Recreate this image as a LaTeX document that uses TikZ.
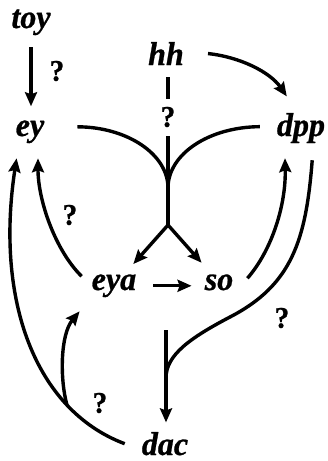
\documentclass[tikz,border=0pt]{standalone}
\usepackage{fontspec}
\newfontfamily\genefont[FakeStretch=0.97,
  BoldFeatures={FakeBold=0.8}, BoldItalicFeatures={FakeBold=0.8}]{Liberation Serif}
\usetikzlibrary{arrows.meta}

\tikzset{
  gene/.style={font=\genefont\bfseries\itshape\fontsize{33}{33}\selectfont,
    inner sep=0pt, anchor=base},
  query/.style={font=\genefont\bfseries\fontsize{30}{30}\selectfont,
    inner sep=0pt},
  link/.style={line width=3.4pt},
  act/.style={link, -{Stealth[length=14pt,width=12pt,inset=2pt]}},
}

\begin{document}
\begin{tikzpicture}[x=1pt,y=-1pt]
  \useasboundingbox (0,0) rectangle (327,461);
  % genes
  \node[gene] (toy) at (31,28) {toy};
  \node[gene] (hh)  at (166,65) {hh};
  \node[gene] (ey)  at (30,136) {ey};
  \node[gene] (dpp) at (301,136) {dpp};
  \node[gene] (eya) at (114,290) {eya};
  \node[gene] (so)  at (219,290) {so};
  \node[gene] (dac) at (165,455) {dac};
  % question marks
  \node[query] (qtoy) at (57,71)   {?};
  \node[query] (qhh)  at (168,117) {?};
  \node[query] (qey)  at (70,215)  {?};
  \node[query] (qdpp) at (282,318) {?};
  \node[query] (qdac) at (100,403) {?};
  % where lines meet
  \coordinate (merge) at (168,188);
  \coordinate (fork)  at (168,225);
  \coordinate (cplx)  at (166,330);
  \coordinate (join)  at (166,378);

  \draw[act, shorten <=12pt, shorten >=14pt] (toy.south) -- (toy.south |- ey.north);
  \draw[act] ([xshift=24pt]hh.east) .. controls (240,57) and (270,72)
    .. ([shift={(10,-16.5)}]dpp.north west);
  % hh, ey and dpp feed eya and so
  \draw[link, shorten <=12pt, shorten >=8pt] (qhh |- hh.south) -- (qhh.north);
  \draw[link, shorten <=9pt] (qhh.south) -- (fork);
  \draw[link] ([shift={(33,-5)}]ey.east) .. controls (127,127) and (168,154) .. (merge);
  \draw[link] ([shift={(-17,-1.4)}]dpp.west) .. controls (209,127) and (168,154) .. (merge);
  \draw[act, shorten >=13.7pt] (fork) -- (eya);
  \draw[act, shorten >=15.4pt] (fork) -- (so);
  \draw[act, shorten <=17pt, shorten >=13pt] (eya.east) -- (eya.east -| so.west);
  % feedback
  \draw[act] ([shift={(-10,2)}]eya.north west) .. controls (55,250) and (38,200)
    .. ([shift={(8,15)}]ey.south);
  \draw[act] ([shift={(14,4)}]so.north east) .. controls (272,250) and (286,205)
    .. ([shift={(-16,15)}]dpp.south);
  % down to dac
  \draw[link] ([shift={(-13,17)}]dpp.south east) .. controls (306,240) and (292,285)
    .. (230,317) .. controls (190,338) and (166,355) .. (join);
  \draw[act] (cplx) -- ([yshift=9.5pt]cplx |- dac.north);
  \draw[act] ([shift={(-17,0)}]dac.west) .. controls (35,410) and (-5,300)
    .. coordinate[pos=0.25] (branch) ([shift={(1,15)}]ey.south west);
  \draw[act] (branch) .. controls (60,380) and (60,335)
    .. ([shift={(-12,14)}]eya.south west);
\end{tikzpicture}
\end{document}
